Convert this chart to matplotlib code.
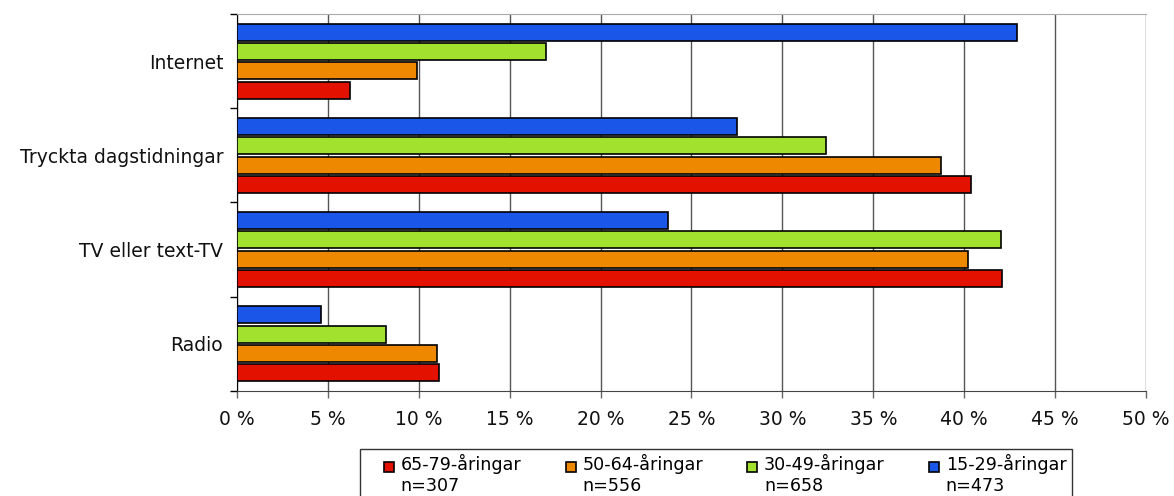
import numpy as np
import matplotlib.pyplot as plt
from matplotlib.patches import Rectangle
from matplotlib.legend_handler import HandlerPatch

# categories listed bottom to top
categories = ['Radio', 'TV eller text-TV', 'Tryckta dagstidningar', 'Internet']
series = ['65-79-åringar', '50-64-åringar', '30-49-åringar', '15-29-åringar']
counts = ['n=307', 'n=556', 'n=658', 'n=473']
colors = ['#e31100', '#ee8800', '#a2e22e', '#1a57e8']

v_65_79 = [11.1, 42.1, 40.4, 6.2]
v_50_64 = [11.0, 40.2, 38.7, 9.9]
v_30_49 = [8.2, 42.0, 32.4, 17.0]
v_15_29 = [4.6, 23.7, 27.5, 42.9]
values = [v_65_79, v_50_64, v_30_49, v_15_29]

fig = plt.figure(figsize=(11.74, 4.96), dpi=100)
ax = fig.add_axes([0.2019, 0.2117, 0.7742, 0.7601])

y = np.arange(len(categories))
pitch = 0.205
height = 0.18
for i, (vals, col) in enumerate(zip(values, colors)):
    off = (i - 1.5) * pitch
    ax.barh(y + off, vals, height=height, color=col, edgecolor='black',
            linewidth=1.2, zorder=3)

ax.set_xlim(0, 50)
ax.set_ylim(-0.5, len(categories) - 0.5)
ax.set_xticks(np.arange(0, 51, 5))
ax.set_xticklabels(['%d %%' % t for t in range(0, 51, 5)], fontsize=13.5,
                   color='#111111')
ax.set_yticks(y)
ax.set_yticklabels(categories, fontsize=13.5, color='#111111')
ax.tick_params(axis='y', length=0, pad=10)
ax.set_yticks(np.arange(-0.5, len(categories), 1), minor=True)
ax.tick_params(axis='y', which='minor', length=5, width=1, color='black')
ax.tick_params(axis='x', length=5, width=1, color='#666666', pad=8.5)
ax.grid(axis='x', color='#555555', linewidth=1, zorder=0)

ax.spines['top'].set_color('#aaaaaa')
ax.spines['right'].set_visible(False)
ax.spines['left'].set_color('black')
ax.spines['bottom'].set_color('#444444')


def top_square(legend, orig_handle, xdescent, ydescent, width, height, fontsize):
    s = 10 * 72 / 100.0
    return Rectangle((width - s - xdescent, height - s - ydescent + 2), s, s)


handles = [Rectangle((0, 0), 1, 1, facecolor=c, edgecolor='black', linewidth=1.2)
           for c in colors]
labels = [s + '\n' + n for s, n in zip(series, counts)]
leg = fig.legend(handles, labels, loc='upper left',
                 bbox_to_anchor=(360 / 1174, 1 - 449 / 496),
                 ncol=4, fontsize=12.6, frameon=True, fancybox=False,
                 edgecolor='black', handlelength=1.65, handleheight=1.6,
                 handletextpad=0.38, columnspacing=1.45, borderpad=0.3,
                 borderaxespad=0, labelspacing=0.2,
                 handler_map={Rectangle: HandlerPatch(patch_func=top_square)})
leg.get_frame().set_linewidth(1)

fig.savefig('out.png', dpi=100)
